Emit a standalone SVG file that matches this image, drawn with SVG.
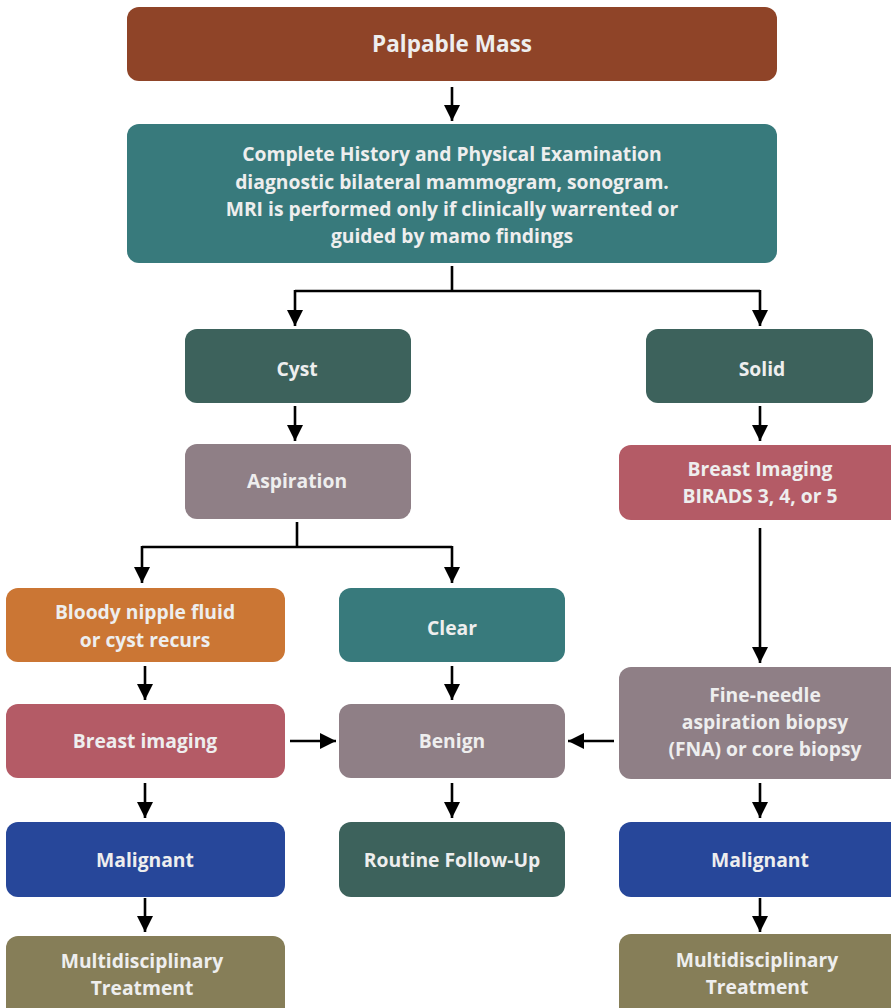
<svg xmlns="http://www.w3.org/2000/svg" width="891" height="1008" viewBox="0 0 891 1008">
  <defs>
    <marker id="head" viewBox="0 0 16 16" refX="16" refY="8" markerWidth="16" markerHeight="16" markerUnits="userSpaceOnUse" orient="auto">
      <path d="M0,0 L16,8 L0,16 Z" fill="#000"/>
    </marker>
    <style>
      .box rect { rx: 12px; ry: 12px; }
      .box text { font-family: "Open Sans", "Noto Sans", "Liberation Sans", sans-serif; font-weight: 700; font-size: 19.3px; fill: #eeeeee; text-anchor: middle; }
      .edge { stroke: #000; stroke-width: 2.6; fill: none; }
      .arrow { marker-end: url(#head); }
    </style>
  </defs>
  <rect width="891" height="1008" fill="#fff"/>

  <g id="connectors">
    <path class="edge arrow" d="M452,87 V121"/>
    <path class="edge" d="M452,266 V291 M295,291 H760"/>
    <path class="edge arrow" d="M295,290 V326"/>
    <path class="edge arrow" d="M760,290 V326"/>
    <path class="edge arrow" d="M295,406 V441"/>
    <path class="edge arrow" d="M760,406 V441"/>
    <path class="edge" d="M297,522 V547 M142,547 H452"/>
    <path class="edge arrow" d="M142,546 V583"/>
    <path class="edge arrow" d="M452,546 V583"/>
    <path class="edge arrow" d="M760,528 V663"/>
    <path class="edge arrow" d="M145,666 V700"/>
    <path class="edge arrow" d="M452,666 V700"/>
    <path class="edge arrow" d="M290,741 H336"/>
    <path class="edge arrow" d="M614,741 H568"/>
    <path class="edge arrow" d="M145,783 V818"/>
    <path class="edge arrow" d="M452,783 V818"/>
    <path class="edge arrow" d="M760,783 V818"/>
    <path class="edge arrow" d="M145,898 V932"/>
    <path class="edge arrow" d="M760,898 V932"/>
  </g>

  <g id="palpable-mass" class="box">
    <rect x="127" y="7" width="650" height="74" fill="#8f4428"/>
    <text x="452" y="52" style="font-size:22.5px">Palpable Mass</text>
  </g>

  <g id="history-exam" class="box">
    <rect x="127" y="124" width="650" height="139" fill="#387a7c"/>
    <text x="452" y="161">Complete History and Physical Examination</text>
    <text x="452" y="189">diagnostic bilateral mammogram, sonogram.</text>
    <text x="452" y="216">MRI is performed only if clinically warrented or</text>
    <text x="452" y="243">guided by mamo findings</text>
  </g>

  <g id="cyst" class="box">
    <rect x="185" y="329" width="226" height="74" fill="#3d625c"/>
    <text x="297" y="376">Cyst</text>
  </g>

  <g id="solid" class="box">
    <rect x="646" y="329" width="227" height="74" fill="#3d625c"/>
    <text x="762" y="376">Solid</text>
  </g>

  <g id="aspiration" class="box">
    <rect x="185" y="444" width="226" height="75" fill="#8f7f86"/>
    <text x="297" y="488">Aspiration</text>
  </g>

  <g id="birads" class="box">
    <rect x="619" y="445" width="284" height="75" fill="#b45b66"/>
    <text x="760" y="476">Breast Imaging</text>
    <text x="760" y="503">BIRADS 3, 4, or 5</text>
  </g>

  <g id="bloody-nipple" class="box">
    <rect x="6" y="588" width="279" height="74" fill="#cb7634"/>
    <text x="145" y="619">Bloody nipple fluid</text>
    <text x="145" y="647">or cyst recurs</text>
  </g>

  <g id="clear" class="box">
    <rect x="339" y="588" width="226" height="74" fill="#387a7c"/>
    <text x="452" y="635">Clear</text>
  </g>

  <g id="breast-imaging" class="box">
    <rect x="6" y="704" width="279" height="74" fill="#b45b66"/>
    <text x="145" y="748">Breast imaging</text>
  </g>

  <g id="benign" class="box">
    <rect x="339" y="704" width="226" height="74" fill="#8f7f86"/>
    <text x="452" y="748">Benign</text>
  </g>

  <g id="fna" class="box">
    <rect x="619" y="667" width="284" height="112" fill="#8f7f86"/>
    <text x="765" y="702">Fine-needle</text>
    <text x="765" y="729">aspiration biopsy</text>
    <text x="765" y="756">(FNA) or core biopsy</text>
  </g>

  <g id="malignant-left" class="box">
    <rect x="6" y="822" width="279" height="75" fill="#27479a"/>
    <text x="145" y="867">Malignant</text>
  </g>

  <g id="routine-follow-up" class="box">
    <rect x="339" y="822" width="226" height="75" fill="#3d625c"/>
    <text x="452" y="867">Routine Follow-Up</text>
  </g>

  <g id="malignant-right" class="box">
    <rect x="619" y="822" width="284" height="75" fill="#27479a"/>
    <text x="760" y="867">Malignant</text>
  </g>

  <g id="treatment-left" class="box">
    <rect x="6" y="936" width="279" height="84" fill="#867e58"/>
    <text x="142" y="968">Multidisciplinary</text>
    <text x="142" y="995">Treatment</text>
  </g>

  <g id="treatment-right" class="box">
    <rect x="619" y="934" width="284" height="86" fill="#867e58"/>
    <text x="757" y="967">Multidisciplinary</text>
    <text x="757" y="994">Treatment</text>
  </g>
</svg>
